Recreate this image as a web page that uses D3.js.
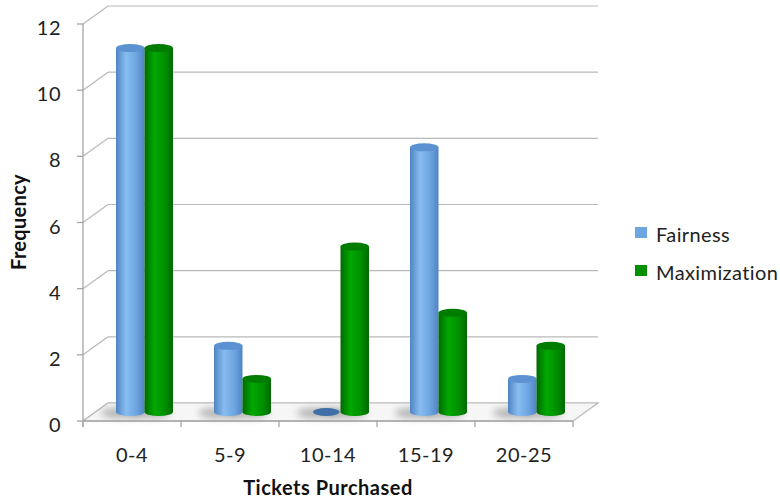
<!DOCTYPE html>
<html>
<head>
<meta charset="utf-8">
<script src="https://cdn.jsdelivr.net/npm/d3@7"></script>
<style>
  html, body { margin: 0; padding: 0; background: #fff; }
  svg { display: block; font-family: Lato, "Open Sans", sans-serif; }
</style>
</head>
<body>
<svg id="chart" width="780" height="500"></svg>
<script>
// Ticket purchase frequencies by bracket, per strategy group
const categories = ["0-4", "5-9", "10-14", "15-19", "20-25"];
const seriesNames = ["Fairness", "Maximization"];
const fairness = [11, 2, 0, 8, 1];
const maximization = [11, 1, 5, 3, 2];
const yTicks = [0, 2, 4, 6, 8, 10, 12];

const seriesValues = [fairness, maximization];
const palette = {
  Fairness: { light: "#88bcf0", mid: "#6ea6e2", dark: "#4e84c3", top: "#5c92d1", flat: "#3f6fa6" },
  Maximization: { light: "#00a800", mid: "#009000", dark: "#006a00", top: "#007c00", flat: "#006000" }
};

const svg = d3.select("#chart");
const defs = svg.append("defs");

// 3D depth offset of the back wall relative to the front plane
const depth = { dx: 25, dy: -18 };
const mid = { dx: depth.dx / 2, dy: depth.dy / 2 };

const x = d3.scaleBand().domain(categories).range([83, 573]);
const y = d3.scaleLinear().domain([0, 12]).range([421, 24]);
const xSub = d3.scaleBand().domain(seriesNames).range([-28.5, 28.5]);

// cylinder body gradients
seriesNames.forEach((s, i) => {
  const c = palette[s];
  const g = defs.append("linearGradient").attr("id", "cyl" + i)
    .attr("x1", "0%").attr("x2", "100%").attr("y1", "0%").attr("y2", "0%");
  g.append("stop").attr("offset", "0%").attr("stop-color", c.dark);
  g.append("stop").attr("offset", "35%").attr("stop-color", c.light);
  g.append("stop").attr("offset", "70%").attr("stop-color", c.mid);
  g.append("stop").attr("offset", "100%").attr("stop-color", c.dark);
});
defs.append("filter").attr("id", "soft").attr("x", "-50%").attr("y", "-100%")
  .attr("width", "200%").attr("height", "300%")
  .append("feGaussianBlur").attr("stdDeviation", 3.5);

const gridColor = "#b9b9b9";
const axisColor = "#a6a6a6";

// back wall gridlines and side-wall diagonals
const grid = svg.append("g");
grid.selectAll("line.back").data(yTicks).join("line")
  .attr("x1", x.range()[0] + depth.dx).attr("x2", x.range()[1] + depth.dx)
  .attr("y1", d => y(d) + depth.dy).attr("y2", d => y(d) + depth.dy)
  .attr("stroke", gridColor).attr("stroke-width", 1.2);
grid.selectAll("line.side").data(yTicks).join("line")
  .attr("x1", x.range()[0]).attr("x2", x.range()[0] + depth.dx)
  .attr("y1", d => y(d)).attr("y2", d => y(d) + depth.dy)
  .attr("stroke", gridColor).attr("stroke-width", 1.2);

// floor
const x0 = x.range()[0], x1 = x.range()[1], yf = y(0);
svg.append("path")
  .attr("d", `M${x0},${yf} L${x1},${yf} L${x1 + depth.dx},${yf + depth.dy} L${x0 + depth.dx},${yf + depth.dy} Z`)
  .attr("fill", "#f6f6f6").attr("stroke", gridColor).attr("stroke-width", 1.2);

// bar shadows on the floor
const flat = [];
categories.forEach((c, ci) => seriesNames.forEach((s, si) => {
  flat.push({ cat: c, series: s, si, value: seriesValues[si][ci] });
}));
const barW = xSub.bandwidth();
const ry = 4;
const cx = d => x(d.cat) + x.bandwidth() / 2 + xSub(d.series) + barW / 2 + mid.dx;
const cy = v => y(v) + mid.dy;

svg.append("g").selectAll("ellipse").data(flat).join("ellipse")
  .attr("cx", d => cx(d) - 9).attr("cy", cy(0) + 1)
  .attr("rx", barW * 0.72).attr("ry", 5.5)
  .attr("fill", "#8c8c8c").attr("opacity", 0.6).attr("filter", "url(#soft)");

// front axis
svg.append("line").attr("x1", x0).attr("x2", x0).attr("y1", y(12)).attr("y2", yf + 6)
  .attr("stroke", axisColor).attr("stroke-width", 1.3);
svg.append("g").selectAll("line").data(yTicks).join("line")
  .attr("x1", x0 - 6).attr("x2", x0).attr("y1", d => y(d)).attr("y2", d => y(d))
  .attr("stroke", axisColor).attr("stroke-width", 1.3);
svg.append("line").attr("x1", x0).attr("x2", x1).attr("y1", yf).attr("y2", yf)
  .attr("stroke", axisColor).attr("stroke-width", 1.3);
const xTickPos = categories.map(c => x(c)).concat([x1]);
svg.append("g").selectAll("line").data(xTickPos).join("line")
  .attr("x1", d => d).attr("x2", d => d).attr("y1", yf).attr("y2", yf + 6)
  .attr("stroke", axisColor).attr("stroke-width", 1.3);

// cylinders
const bars = svg.append("g").selectAll("g").data(flat).join("g");
bars.each(function (d) {
  const g = d3.select(this);
  const c = palette[d.series];
  const left = cx(d) - barW / 2, right = cx(d) + barW / 2;
  const rx = barW / 2;
  const yb = cy(0), yt = cy(d.value);
  if (d.value <= 0) {
    g.append("ellipse").attr("cx", cx(d)).attr("cy", yb).attr("rx", rx - 1).attr("ry", ry)
      .attr("fill", c.flat);
    return;
  }
  g.append("path")
    .attr("d", `M${left},${yt} L${left},${yb} A${rx},${ry} 0 0 0 ${right},${yb} L${right},${yt} Z`)
    .attr("fill", `url(#cyl${d.si})`);
  g.append("ellipse").attr("cx", cx(d)).attr("cy", yt).attr("rx", rx).attr("ry", ry)
    .attr("fill", c.top);
});

// y tick labels
svg.append("g").selectAll("text").data(yTicks).join("text")
  .attr("x", 61).attr("y", d => y(d) + 4).attr("dy", "0.35em")
  .attr("text-anchor", "end").attr("font-size", 20).attr("letter-spacing", 0.5)
  .attr("fill", "#222")
  .text(d => d);

// category labels
svg.append("g").selectAll("text").data(categories).join("text")
  .attr("x", d => x(d) + x.bandwidth() / 2).attr("y", 462)
  .attr("text-anchor", "middle").attr("font-size", 20).attr("letter-spacing", 0.5)
  .attr("fill", "#222")
  .text(d => d);

// axis titles
svg.append("text").attr("x", 328).attr("y", 495).attr("text-anchor", "middle")
  .attr("font-size", 20).attr("letter-spacing", 0.5)
  .attr("font-weight", "bold").attr("fill", "#111")
  .text("Tickets Purchased");
svg.append("text").attr("transform", "translate(26,222) rotate(-90)")
  .attr("text-anchor", "middle").attr("font-size", 20).attr("letter-spacing", 0.3)
  .attr("font-weight", "bold").attr("fill", "#111")
  .text("Frequency");

// legend
const legend = svg.append("g").selectAll("g").data(seriesNames).join("g")
  .attr("transform", (d, i) => `translate(635,${227 + i * 38})`);
legend.append("rect").attr("width", 12).attr("height", 11)
  .attr("fill", d => palette[d].mid);
legend.append("text").attr("x", 21).attr("y", 15)
  .attr("font-size", 20).attr("letter-spacing", 0.4).attr("fill", "#222").text(d => d);
</script>
</body>
</html>
